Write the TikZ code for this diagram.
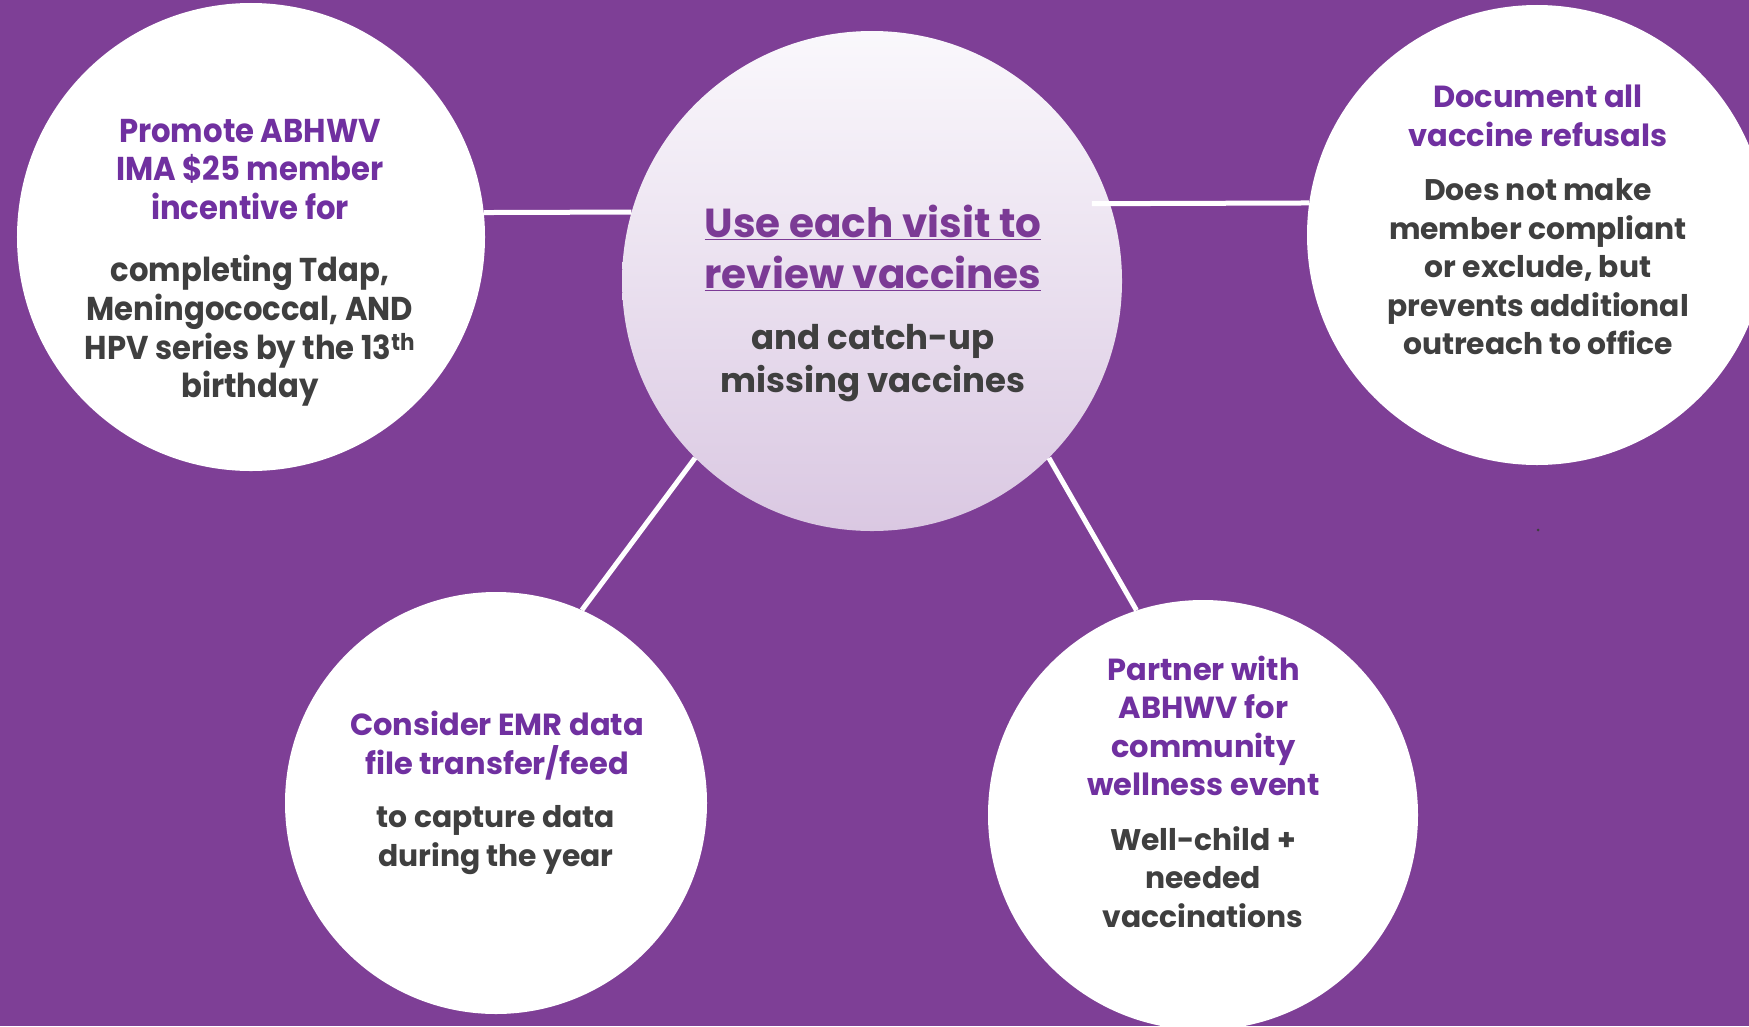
\documentclass[tikz,border=0pt]{standalone}
\usepackage{fontspec}
\setmainfont{Poppins}
\newfontfamily\condfont{Poppins}[FakeStretch=0.93]
\definecolor{bgpurple}{HTML}{7E3F96}
\definecolor{headpurple}{HTML}{7030A0}
\definecolor{titlepurple}{HTML}{7B3A95}
\definecolor{bodydark}{HTML}{3F3F3F}
\definecolor{ctop}{HTML}{FAF8FC}
\definecolor{cbot}{HTML}{DAC8E2}
\begin{document}
\begin{tikzpicture}[x=1bp,y=-1bp,
  bubble/.style={circle,fill=white,draw=none,inner sep=0pt,minimum size=#1},
  hubbubble/.style={circle,draw=none,inner sep=0pt,minimum size=#1,top color=ctop,bottom color=cbot},
  conn/.style={draw=white,line width=5bp},
  headtxt/.style={text=headpurple,align=center,inner sep=0pt,font=\bfseries\fontsize{30.5bp}{38.5bp}\selectfont},
  bodytxt/.style={text=bodydark,align=center,inner sep=0pt,font=\bfseries\fontsize{29.8bp}{38.5bp}\selectfont},
  condhead/.style={text=headpurple,align=center,inner sep=0pt,font=\condfont\bfseries\fontsize{33bp}{38.5bp}\selectfont},
  condbody/.style={text=bodydark,align=center,inner sep=0pt,font=\condfont\bfseries\fontsize{33bp}{38.7bp}\selectfont},
  hubtitle/.style={text=titlepurple,align=center,inner sep=0pt,font=\bfseries\fontsize{40.5bp}{51bp}\selectfont},
  hubbody/.style={text=bodydark,align=center,inner sep=0pt,font=\bfseries\fontsize{34bp}{43bp}\selectfont}]
\useasboundingbox (0,0) rectangle (1749,1026);
\fill[bgpurple] (0,0) rectangle (1749,1026);
% circles
\node[bubble=468bp] (L) at (251,237) {};
\node[hubbubble=500bp] (C) at (872,281) {};
\node[bubble=460bp] (R) at (1537,235) {};
\node[bubble=422bp] (BL) at (496,803) {};
\node[bubble=430bp] (BR) at (1203,815) {};
% connectors
\draw[conn] (L.6) -- (C.164);
\draw[conn] (C.18) ++(-18,0) -- (R.172);
\draw[conn] (C.225) -- (BL.66);
\draw[conn] (C.315) -- (BR.108);
% texts
\node[condhead] (Lh) at (250,169.5) {Promote ABHWV\\IMA \$25 member\\incentive for};
\node[condbody] (Lb) at (250,331) {completing Tdap,\\Meningococcal, AND\\HPV series by the 13\textsuperscript{th}\\birthday};
\node[hubtitle] (Ch) at (873,248) {\underline{Use each visit to}\\\underline{review vaccines}};
\node[hubbody] (Cb) at (873,363) {and catch-up\\missing vaccines};
\node[headtxt] (Rh) at (1538,116) {Document all\\vaccine refusals};
\node[bodytxt] (Rb) at (1538,266.6) {Does not make\\member compliant\\or exclude, but\\prevents additional\\outreach to office};
\node[headtxt] (BLh) at (497,745.6) {Consider EMR data\\file transfer/feed};
\node[bodytxt] (BLb) at (496,840) {to capture data\\during the year};
\node[headtxt] (BRh) at (1203.5,726) {Partner with\\ABHWV for\\community\\wellness event};
\node[bodytxt] (BRb) at (1203,877) {Well-child +\\needed\\vaccinations};
\fill[bodydark] (1538,530) circle (1.5bp);
\end{tikzpicture}
\end{document}
